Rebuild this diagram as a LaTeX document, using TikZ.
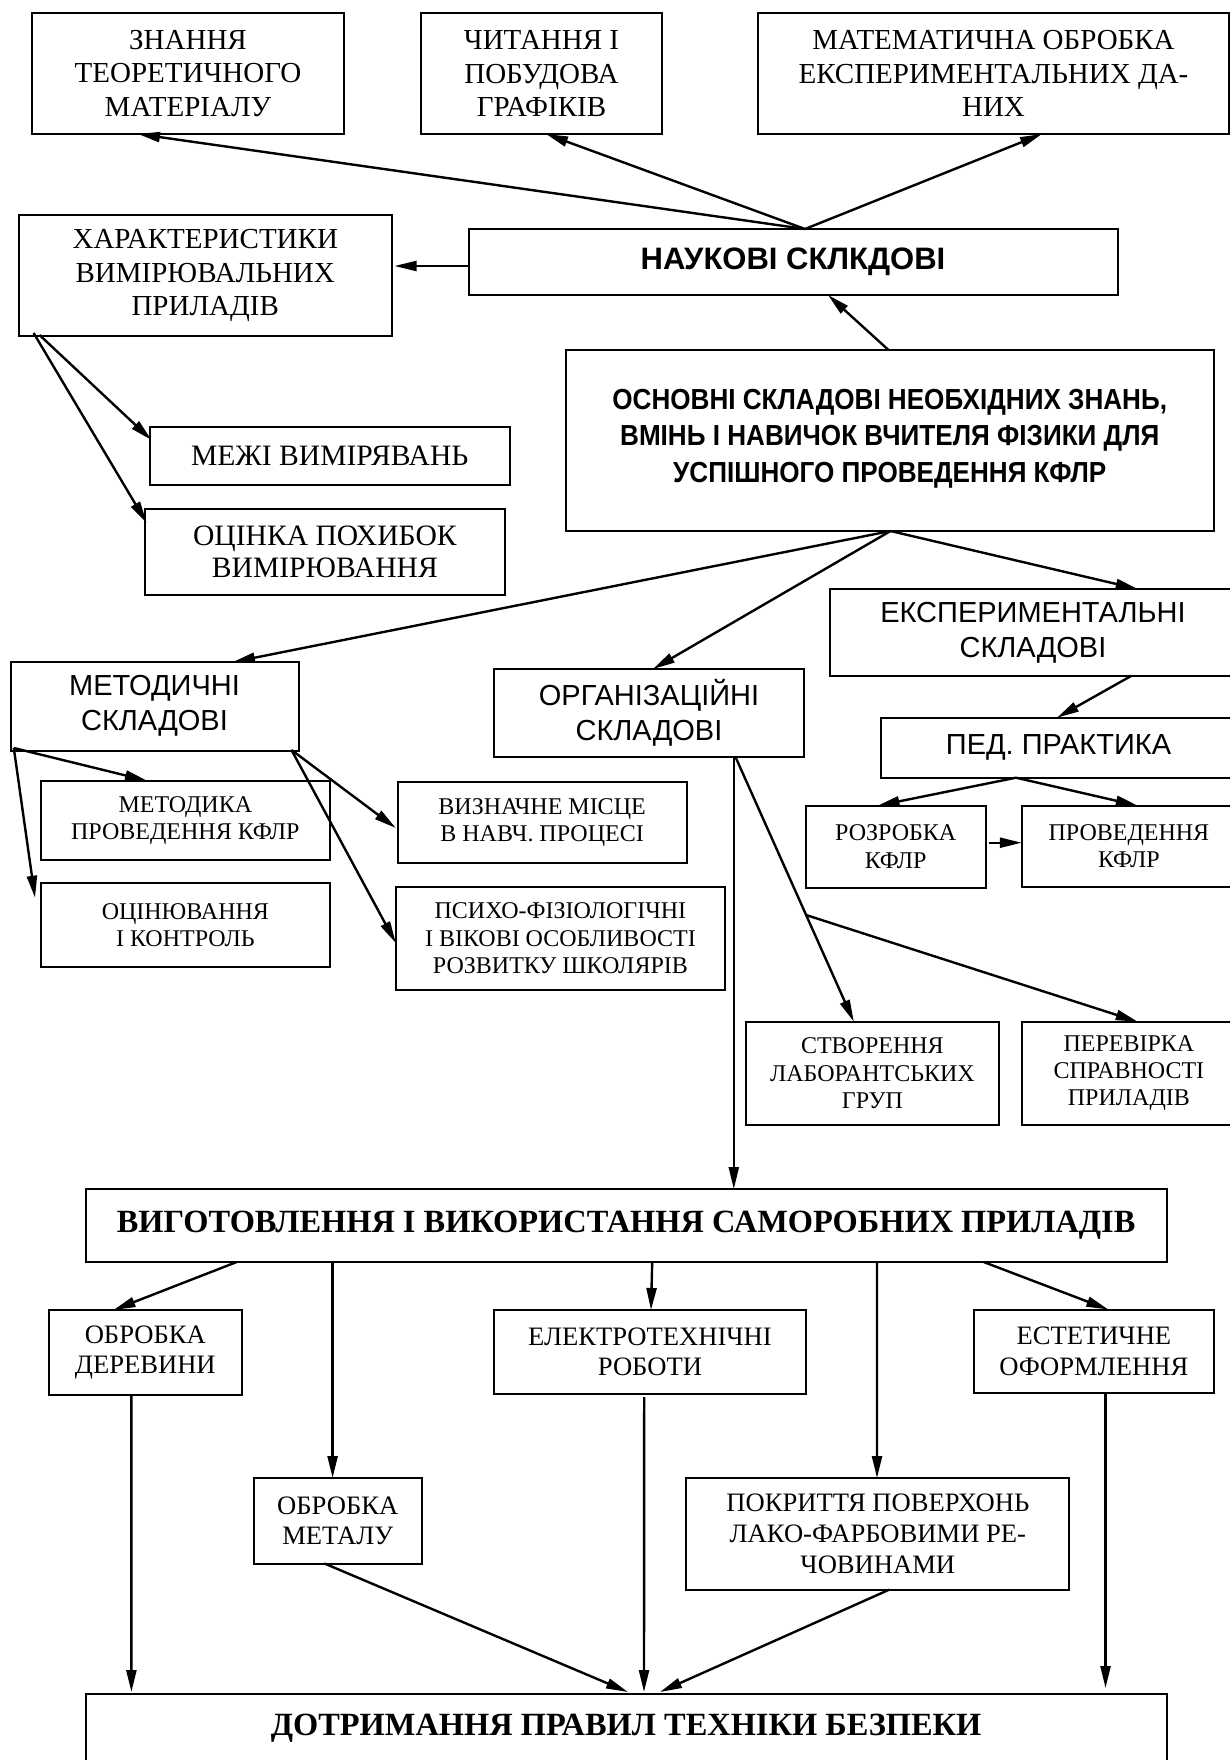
\documentclass[tikz,border=0pt]{standalone}
\usepackage{fontspec}
\setmainfont{Liberation Serif}
\newfontfamily\sansf{Liberation Sans}
\newfontfamily\sansc[FakeStretch=0.9]{Liberation Sans}
\usetikzlibrary{arrows.meta,calc}
\tikzset{
 bx/.style={draw, line width=1pt, inner sep=0pt, outer sep=0pt, align=center, text=black},
 serA/.style={font=\fontsize{14.5}{16.7}\selectfont},
 serM/.style={font=\fontsize{14.8}{16}\selectfont},
 serS/.style={font=\fontsize{12}{13.6}\selectfont},
 serB/.style={font=\fontsize{13.3}{15.3}\selectfont},
 sansR/.style={font=\sansf\fontsize{14.5}{17.5}\selectfont},
 sansB/.style={font=\sansc\bfseries\fontsize{14.5}{18.3}\selectfont},
 sansN/.style={font=\sansf\bfseries\fontsize{15.5}{17}\selectfont},
 serBold/.style={font=\bfseries\fontsize{16.2}{19}\selectfont},
 arr/.style={line width=1.2pt, -{Triangle[length=11pt,width=5pt]}},
 ln/.style={line width=1.2pt}
}
\newcommand{\bxnode}[7]{%
 \pgfmathsetmacro{\bxw}{(#4-#2)/2}%
 \pgfmathsetmacro{\bxh}{(#5-#3)/2}%
 \node[bx,#6,minimum width=\bxw pt,minimum height=\bxh pt] (#1) at ({(#2+#4)/2},{(#3+#5)/2}) {#7};}
\begin{document}
\begin{tikzpicture}[x=0.5pt,y=-0.5pt]
\useasboundingbox (0,0) rectangle (1230,1760);
\fill[white] (0,0) rectangle (1230,1760);
% top row
\bxnode{znan}{32}{13}{344}{134}{serA}{ЗНАННЯ\\ТЕОРЕТИЧНОГО\\МАТЕРІАЛУ}
\bxnode{chyt}{421}{13}{662}{134}{serA}{ЧИТАННЯ І\\ПОБУДОВА\\ГРАФІКІВ}
\bxnode{mat}{758}{13}{1229}{134}{serA}{МАТЕМАТИЧНА ОБРОБКА\\ЕКСПЕРИМЕНТАЛЬНИХ ДА-\\НИХ}
\bxnode{khar}{19}{215}{391.5}{336}{serA}{ХАРАКТЕРИСТИКИ\\ВИМІРЮВАЛЬНИХ\\ПРИЛАДІВ}
\bxnode{nauk}{468.5}{229}{1117.5}{295}{sansN}{НАУКОВІ СКЛКДОВІ}
\bxnode{osn}{566}{350}{1213.5}{531}{}{}
\node[sansB,align=center] (osnT) at ($(osn.center)+(0,-2)$) {ОСНОВНІ СКЛАДОВІ НЕОБХІДНИХ ЗНАНЬ,\\ВМІНЬ І НАВИЧОК ВЧИТЕЛЯ ФІЗИКИ ДЛЯ\\УСПІШНОГО ПРОВЕДЕННЯ КФЛР};
\bxnode{mezh}{149.5}{427}{510}{485}{serM}{МЕЖІ ВИМІРЯВАНЬ}
\bxnode{ocpokh}{144.7}{509}{505}{595}{serM}{ОЦІНКА ПОХИБОК\\ВИМІРЮВАННЯ}
% middle
\bxnode{metod}{10.5}{662}{298.5}{750.5}{sansR}{МЕТОДИЧНІ\\СКЛАДОВІ}
\bxnode{org}{494}{669}{804}{757}{sansR}{ОРГАНІЗАЦІЙНІ\\СКЛАДОВІ}
\bxnode{eksp}{830}{589}{1236}{676}{sansR}{ЕКСПЕРИМЕНТАЛЬНІ\\СКЛАДОВІ}
\bxnode{ped}{881}{717.7}{1236}{777.7}{sansR}{ПЕД. ПРАКТИКА}
\bxnode{metka}{41}{780.7}{329.7}{860}{serS}{МЕТОДИКА\\ПРОВЕДЕННЯ КФЛР}
\bxnode{ocinyuv}{41}{882.7}{329.7}{967}{serS}{ОЦІНЮВАННЯ\\І КОНТРОЛЬ}
\bxnode{vyzn}{397.7}{781.7}{686.5}{862.7}{serS}{ВИЗНАЧНЕ МІСЦЕ\\В НАВЧ. ПРОЦЕСІ}
\bxnode{psykho}{395.8}{886.7}{725}{990}{serS}{ПСИХО-ФІЗІОЛОГІЧНІ\\І ВІКОВІ ОСОБЛИВОСТІ\\РОЗВИТКУ ШКОЛЯРІВ}
\bxnode{rozr}{805.8}{805.7}{985.6}{887.7}{serS}{РОЗРОБКА\\КФЛР}
\bxnode{prov}{1021.8}{805.7}{1236}{886.7}{serS}{ПРОВЕДЕННЯ\\КФЛР}
\bxnode{stvor}{746.3}{1021.7}{998.5}{1125}{serS}{СТВОРЕННЯ\\ЛАБОРАНТСЬКИХ\\ГРУП}
\bxnode{perev}{1021.8}{1021.7}{1236}{1125}{serS}{ПЕРЕВІРКА\\СПРАВНОСТІ\\ПРИЛАДІВ}
% bottom
\bxnode{vyg}{85.7}{1189}{1166.5}{1262}{serBold}{ВИГОТОВЛЕННЯ І ВИКОРИСТАННЯ САМОРОБНИХ ПРИЛАДІВ}
\bxnode{derev}{49}{1310}{241.6}{1395}{serB}{ОБРОБКА\\ДЕРЕВИНИ}
\bxnode{elektro}{493.9}{1310}{806}{1394}{serB}{ЕЛЕКТРОТЕХНІЧНІ\\РОБОТИ}
\bxnode{estet}{973.7}{1309.5}{1214}{1393}{serB}{ЕСТЕТИЧНЕ\\ОФОРМЛЕННЯ}
\bxnode{metal}{253.9}{1478}{421.6}{1563.5}{serB}{ОБРОБКА\\МЕТАЛУ}
\bxnode{pokr}{686.4}{1478}{1069.3}{1589.6}{serB}{ПОКРИТТЯ ПОВЕРХОНЬ\\ЛАКО-ФАРБОВИМИ РЕ-\\ЧОВИНАМИ}
\bxnode{dotr}{85.7}{1694}{1166.5}{1762}{serBold}{ДОТРИМАННЯ ПРАВИЛ ТЕХНІКИ БЕЗПЕКИ}
% connectors
\draw[arr] ($(nauk.north west)+(336.5,0)$) -- ($(znan.south west)+(106,0)$);
\draw[arr] ($(nauk.north west)+(336.5,0)$) -- ($(chyt.south west)+(125,0)$);
\draw[arr] ($(nauk.north west)+(336.5,0)$) -- ($(mat.south west)+(284,0)$);
\draw[arr] ($(nauk.west)+(0,4)$) -- ($(khar.east)+(3,-9.5)$);
\draw[arr] ($(osn.north west)+(322.5,0)$) -- ($(nauk.south west)+(359.5,0)$);
\draw[arr] ($(khar.south west)+(20.5,-1)$) -- ($(mezh.north west)+(2,13)$);
\draw[arr] ($(khar.south west)+(14.6,-3)$) -- ($(ocpokh.north west)+(2,14)$);
\draw[arr] ($(osn.south west)+(324.5,0)$) -- ($(metod.north west)+(222.5,0)$);
\draw[arr] ($(osn.south west)+(324.5,0)$) -- ($(org.north west)+(159,0)$);
\draw[arr] ($(osn.south west)+(324.5,0)$) -- ($(eksp.north west)+(307.7,0)$);
\draw[arr] ($(eksp.south west)+(301,0)$) -- ($(ped.north west)+(176,0)$);
\draw[arr] ($(metod.south west)+(3.3,-2.5)$) -- ($(metka.north west)+(106,0)$);
\draw[arr] ($(metod.south west)+(3.3,-2.5)$) -- ($(ocinyuv.north west)+(-6,15)$);
\draw[arr] ($(metod.south west)+(281,-0.5)$) -- ($(vyzn.north west)+(-1.9,46.3)$);
\draw[arr] ($(metod.south west)+(281,-0.5)$) -- ($(psykho.north west)+(0,56.3)$);
\draw[arr] ($(ped.south west)+(135,0)$) -- ($(rozr.north west)+(71.7,0)$);
\draw[arr] ($(ped.south west)+(135,0)$) -- ($(prov.north west)+(116,0)$);
\draw[arr] ($(rozr.east)+(3.4,-4)$) -- ($(prov.west)+(0,-3.5)$);
\draw[arr] ($(org.south west)+(239.8,0)$) -- ($(vyg.north west)+(648.1,0)$);
\coordinate (o2) at ($(org.south west)+(241.5,0)$);
\coordinate (s2) at ($(stvor.north west)+(107.5,0)$);
\coordinate (jn) at ($(o2)!0.597!(s2)$);
\draw[arr] (o2) -- (s2);
\draw[arr] (jn) -- ($(perev.north west)+(115.9,0)$);
\draw[arr] ($(vyg.south west)+(151,0)$) -- ($(derev.north west)+(64.5,0)$);
\draw[arr] ($(vyg.south west)+(246.9,0)$) -- ($(metal.north west)+(78.7,0)$);
\draw[arr] ($(vyg.south west)+(566.5,0)$) -- ($(elektro.north west)+(157.1,0)$);
\draw[arr] ($(vyg.south west)+(791.3,0)$) -- ($(pokr.north west)+(190.6,0)$);
\draw[arr] ($(vyg.south west)+(898,0)$) -- ($(estet.north west)+(134.6,0)$);
\draw[arr] ($(derev.south west)+(82.4,0)$) -- ($(dotr.north west)+(45.7,-2)$);
\draw[arr] ($(metal.south west)+(70.6,0)$) -- ($(dotr.north west)+(542.3,-2)$);
\draw[arr] ($(elektro.south west)+(150.3,3)$) -- ($(dotr.north west)+(558.3,-2)$);
\draw[arr] ($(pokr.south west)+(202.9,0)$) -- ($(dotr.north west)+(574.3,-2)$);
\draw[arr] ($(estet.south west)+(131.8,0)$) -- ($(dotr.north west)+(1019.8,-6)$);
\end{tikzpicture}
\end{document}
